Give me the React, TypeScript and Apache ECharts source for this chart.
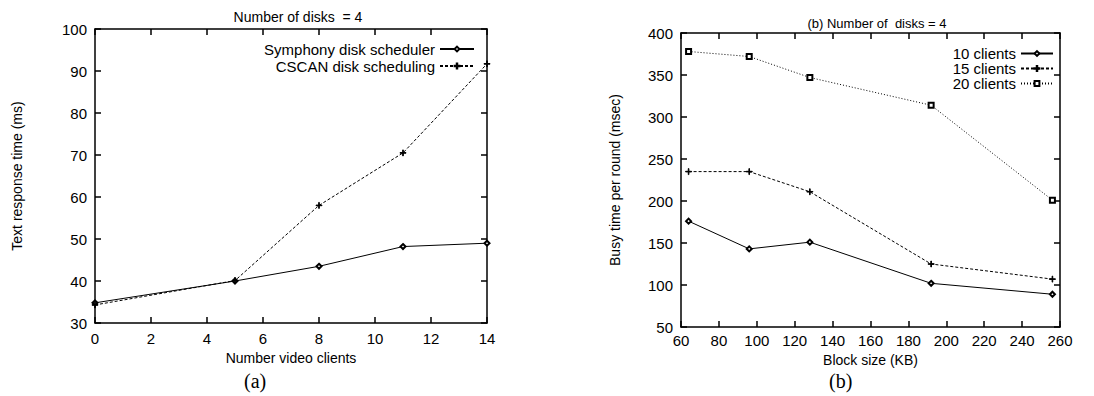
import React, { useEffect, useRef } from "react";
import * as echarts from "echarts";

const clientsX = [0, 5, 8, 11, 14];
const symphony = [34.8, 40.0, 43.5, 48.2, 49.0];
const cscan = [34.3, 40.1, 58.0, 70.5, 91.7];

const blockSizes = [64, 96, 128, 192, 256];
const clients10 = [176, 143, 151, 102, 89];
const clients15 = [235, 235, 211, 125, 107];
const clients20 = [378, 372, 347, 314, 201];

const FONT = "'Liberation Sans', Arial, sans-serif";
const SERIF = "'Liberation Serif', 'Times New Roman', serif";
const PLUS = "path://M0,4.5L10,4.5L10,5.5L0,5.5ZM4.5,0L5.5,0L5.5,10L4.5,10Z";

const pair = (xs: number[], ys: number[]) => xs.map((x, i) => [x, ys[i]]);

export default function App() {
  const ref = useRef<HTMLDivElement>(null);
  useEffect(() => {
    const chart = echarts.init(ref.current!, null, { renderer: "svg" });
    const label = { color: "#000", fontSize: 15, fontFamily: FONT };
    const nameStyle = { color: "#000", fontSize: 14, fontFamily: FONT };
    const mk = (o: any, showLabel: boolean, margin = 8) => ({
      type: "value",
      axisLine: { show: true, onZero: false, lineStyle: { color: "#000", width: 1.5 } },
      axisTick: { show: true, inside: true, length: 6, lineStyle: { color: "#000", width: 1.5 } },
      splitLine: { show: false },
      axisLabel: showLabel ? { ...label, margin } : { show: false },
      nameTextStyle: nameStyle,
      ...o,
    });
    const lineBase = {
      type: "line",
      lineStyle: { color: "#000", width: 1 },
      itemStyle: { color: "#000", borderColor: "#000", borderWidth: 1 },
      color: "#000",
    };
    chart.setOption({
      animation: false,
      backgroundColor: "#fff",
      title: [
        {
          text: "Number of disks  = 4",
          left: 293,
          top: 5,
          textAlign: "center",
          textStyle: { fontSize: 14, fontWeight: "normal", color: "#000", fontFamily: FONT },
        },
        {
          text: "(b) Number of  disks = 4",
          left: 872,
          top: 12,
          textAlign: "center",
          textStyle: { fontSize: 13, fontWeight: "normal", color: "#000", fontFamily: FONT },
        },
      ],
      grid: [
        { left: 95, top: 29, width: 392, height: 294 },
        { left: 681, top: 33, width: 379, height: 294 },
      ],
      legend: [
        {
          data: ["Symphony disk scheduler", "CSCAN disk scheduling"],
          orient: "vertical",
          right: 1094 - 480,
          top: 36,
          align: "right",
          itemWidth: 34,
          itemHeight: 6,
          itemGap: 1,
          textStyle: { fontSize: 15, color: "#000", fontFamily: FONT, lineHeight: 16 },
        },
        {
          data: ["10 clients", "15 clients", "20 clients"],
          orient: "vertical",
          right: 35,
          top: 41,
          align: "right",
          itemWidth: 32,
          itemHeight: 6,
          itemGap: 0,
          textStyle: { fontSize: 15, color: "#000", fontFamily: FONT, lineHeight: 13.5 },
        },
      ],
      xAxis: [
        mk({ gridIndex: 0, min: 0, max: 14, interval: 2, position: "bottom", name: "Number video clients", nameLocation: "middle", nameGap: 21 }, true),
        mk({ gridIndex: 0, min: 0, max: 14, interval: 2, position: "top" }, false),
        mk({ gridIndex: 1, min: 60, max: 260, interval: 20, position: "bottom", name: "Block size (KB)", nameLocation: "middle", nameGap: 18 }, true, 6),
        mk({ gridIndex: 1, min: 60, max: 260, interval: 20, position: "top" }, false),
      ],
      yAxis: [
        mk({ gridIndex: 0, min: 30, max: 100, interval: 10, position: "left", name: "Text response time (ms)", nameLocation: "middle", nameGap: 71 }, true),
        mk({ gridIndex: 0, min: 30, max: 100, interval: 10, position: "right" }, false),
        mk({ gridIndex: 1, min: 50, max: 400, interval: 50, position: "left", name: "Busy time per round (msec)", nameLocation: "middle", nameGap: 59 }, true),
        mk({ gridIndex: 1, min: 50, max: 400, interval: 50, position: "right" }, false),
      ],
      series: [
        {
          ...lineBase,
          name: "Symphony disk scheduler",
          xAxisIndex: 0,
          yAxisIndex: 0,
          symbol: "emptyDiamond",
          symbolSize: 5,
          data: pair(clientsX, symphony),
        },
        {
          ...lineBase,
          name: "CSCAN disk scheduling",
          xAxisIndex: 0,
          yAxisIndex: 0,
          symbol: PLUS,
          symbolSize: 6,
          lineStyle: { color: "#000", width: 1, type: [3, 2] },
          data: pair(clientsX, cscan),
        },
        {
          ...lineBase,
          name: "10 clients",
          xAxisIndex: 2,
          yAxisIndex: 2,
          symbol: "emptyDiamond",
          symbolSize: 5,
          data: pair(blockSizes, clients10),
        },
        {
          ...lineBase,
          name: "15 clients",
          xAxisIndex: 2,
          yAxisIndex: 2,
          symbol: PLUS,
          symbolSize: 6,
          lineStyle: { color: "#000", width: 1, type: [3, 2] },
          data: pair(blockSizes, clients15),
        },
        {
          ...lineBase,
          name: "20 clients",
          xAxisIndex: 2,
          yAxisIndex: 2,
          symbol: "emptyRect",
          symbolSize: 5,
          lineStyle: { color: "#000", width: 1, type: [1, 2] },
          data: pair(blockSizes, clients20),
        },
        { type: "line", name: "mirrorA", xAxisIndex: 1, yAxisIndex: 1, data: [], silent: true },
        { type: "line", name: "mirrorB", xAxisIndex: 3, yAxisIndex: 3, data: [], silent: true },
      ],
      graphic: [
        {
          type: "text",
          x: 244,
          y: 371,
          style: { text: "(a)", fontSize: 20, fontFamily: SERIF, fill: "#000" },
        },
        {
          type: "text",
          x: 829,
          y: 371,
          style: { text: "(b)", fontSize: 20, fontFamily: SERIF, fill: "#000" },
        },
      ],
    });
    return () => chart.dispose();
  }, []);
  return (
    <div
      ref={ref}
      style={{ position: "fixed", left: 0, top: 0, width: 1094, height: 396, background: "#fff" }}
    />
  );
}
